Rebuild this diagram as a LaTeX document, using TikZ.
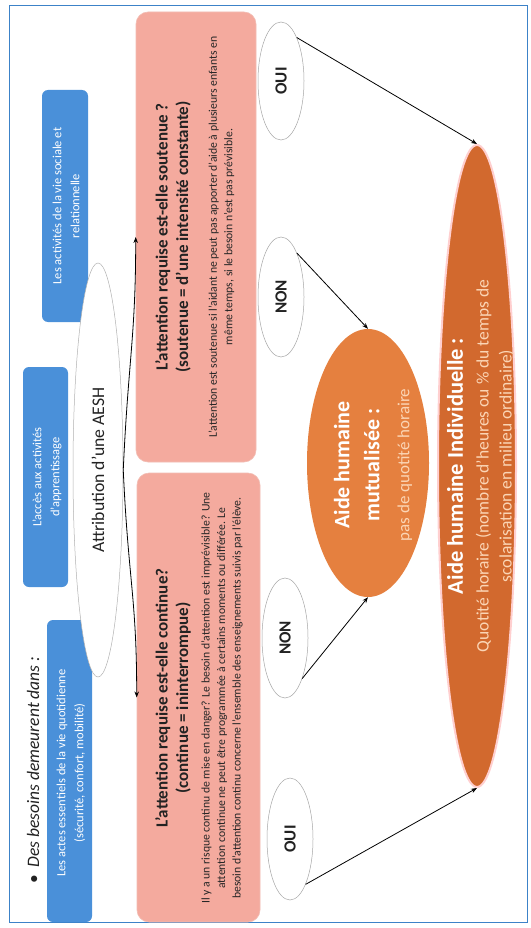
\documentclass[tikz,border=0pt]{standalone}
\usepackage{fontspec}
\setmainfont{Carlito}
\usetikzlibrary{shapes.geometric,arrows.meta}
\definecolor{framebl}{HTML}{3C82C8}
\definecolor{boxbl}{HTML}{4A90D9}
\definecolor{pinkfill}{HTML}{F4AA9E}
\definecolor{pinkdraw}{HTML}{F2BDB4}
\definecolor{orlight}{HTML}{E5803F}
\definecolor{ordark}{HTML}{D2692E}
\definecolor{peach}{HTML}{FBD5B5}
\definecolor{txtdark}{HTML}{222222}
\begin{document}
\begin{tikzpicture}[x=1pt,y=-1pt,
  bluebox/.style={fill=boxbl, rounded corners=6pt, inner sep=0pt},
  pinkbox/.style={fill=pinkfill, draw=pinkdraw, line width=0.6pt, rounded corners=12pt, inner sep=0pt},
  choice/.style={ellipse, fill=white, draw=black!35, line width=0.5pt, inner sep=0pt, minimum width=46pt},
  bluetxt/.style={rotate=90, align=center, text=white, font=\fontsize{12.5}{18}\selectfont},
  titletxt/.style={rotate=90, align=center, text=txtdark, font=\fontsize{17}{20.5}\selectfont\bfseries},
  bodytxt/.style={rotate=90, align=center, text=black!85, font=\fontsize{11.7}{15.5}\selectfont},
  choicetxt/.style={rotate=90, text=txtdark, font=\fontsize{17}{18}\selectfont\bfseries},
  arr/.style={-{Stealth[length=6pt,width=4.5pt]}, line width=0.8pt, black}]
\useasboundingbox (0,0) rectangle (530,928);
\fill[white] (0,0) rectangle (530,928);
\draw[framebl, line width=1pt] (9,6) rectangle (527,922);

% heading
\node[rotate=90, text=txtdark, font=\fontsize{17.5}{22}\selectfont\itshape] (head) at (33,770) {\upshape•\hspace{7pt}\itshape Des besoins demeurent dans :};

% blue boxes
\node[bluebox, minimum width=45pt, minimum height=302pt] (b1) at (69.5,771) {};
\node[bluebox, minimum width=45pt, minimum height=220pt] (b2) at (45.5,477) {};
\node[bluebox, minimum width=46pt, minimum height=232pt] (b3) at (65,206) {};
\node[bluetxt] (b1t) at (71,773) {Les actes essentiels de la vie quotidienne\\(sécurité, confort, mobilité)};
\node[bluetxt] (b2t) at (47,477) {L'accès aux activités\\d'apprentissage};
\node[bluetxt] (b3t) at (66,206) {Les activités de la vie sociale et\\relationnelle};

% central ellipse
\node[ellipse, fill=white, draw=black!30, line width=0.5pt, inner sep=0pt, minimum width=50pt, minimum height=414pt] (aesh) at (98,470) {};
\node[rotate=90, text=txtdark, font=\fontsize{17.7}{20}\selectfont] (aesht) at (aesh.center) {Attribution d’une AESH};

% pink boxes
\node[pinkbox, minimum width=123pt, minimum height=449pt] (boxA) at (198.5,697.5) {};
\node[pinkbox, minimum width=120pt, minimum height=450pt] (boxB) at (196,237) {};
\node[titletxt] (boxAt) at (173,698) {L’attention requise est-elle continue?\\(continue = ininterrompue)};
\node[bodytxt] (boxAb) at (222,698) {Il y a un risque continu de mise en danger? Le besoin d’attention est imprévisible? Une\\attention continue ne peut être programmée à certains moments ou différée. Le\\besoin d’attention continu concerne l’ensemble des enseignements suivis par l’élève.};
\node[titletxt] (boxBt) at (173,237) {L’attention requise est-elle soutenue ?\\(soutenue = d’une intensité constante)};
\node[bodytxt] (boxBb) at (221.5,237) {L’attention est soutenue si l’aidant ne peut pas apporter d’aide à plusieurs enfants en\\même temps, si le besoin n’est pas prévisible.};

% choice ellipses
\node[choice, minimum height=118pt] (oui1) at (281,81) {};
\node[choice, minimum height=120pt] (non1) at (281,297) {};
\node[choice, minimum height=120pt] (non2) at (285,638) {};
\node[choice, minimum height=122pt] (oui2) at (290,839) {};
\node[choicetxt] (oui1t) at (oui1.center) {OUI};
\node[choicetxt] (non1t) at (non1.center) {NON};
\node[choicetxt] (non2t) at (non2.center) {NON};
\node[choicetxt] (oui2t) at (oui2.center) {OUI};

% result ellipses
\node[ellipse, fill=orlight, inner sep=0pt, minimum width=122pt, minimum height=268pt] (mutu) at (368,463) {};
\node[rotate=90, align=center, text=white, font=\fontsize{22}{30}\selectfont\bfseries] (mutut) at (373,465) {Aide humaine\\mutualisée :\\{\mdseries\fontsize{17}{30}\selectfont\color{peach}pas de quotité horaire}};
\node[ellipse, fill=ordark, draw=pink!70!red!40, line width=2pt, inner sep=0pt, minimum width=78pt, minimum height=642pt] (indiv) at (477,466) {};
\node[rotate=90, text=white, font=\fontsize{22.5}{24}\selectfont\bfseries] (indivt) at (455,466) {Aide humaine Individuelle :};
\node[rotate=90, align=center, text=peach, font=\fontsize{17.5}{23}\selectfont] (indivb) at (495,466) {Quotité horaire (nombre d’heures ou \% du temps de\\scolarisation en milieu ordinaire)};

% connectors
\draw[arr] (aesh.east) .. controls +(5,-110) and +(0,100) .. (boxB.west);
\draw[arr] (aesh.east) .. controls +(5,110) and +(0,-100) .. (boxA.west);
\draw[arr] (oui1.70) -- (indiv.north);
\draw[arr] (non1.70) -- (mutu.north);
\draw[arr] (non2.-67) -- (mutu.south);
\draw[arr] (oui2.-71) -- (indiv.south);
\end{tikzpicture}
\end{document}
